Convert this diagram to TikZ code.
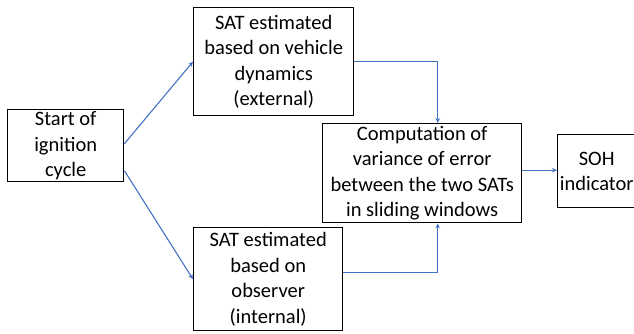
\documentclass[tikz,border=0pt]{standalone}
\usepackage{fontspec}
\setmainfont{Carlito}
\usetikzlibrary{arrows.meta,calc,positioning}
\definecolor{ink}{RGB}{0,0,0}
\definecolor{flow}{RGB}{68,114,196}
\tikzset{
  blk/.style={
    draw=ink, line width=1.4pt, anchor=north west,
    minimum width=#1, inner sep=0pt, align=center,
    font=\fontsize{20.5}{25.5}\selectfont,
  },
  blk/.default=100,
  arr/.style={-{Stealth[length=5pt,width=4.5pt]}, line width=1.1pt, draw=flow},
}

\begin{document}
\begin{tikzpicture}[x=1pt,y=-1pt]
  \useasboundingbox (0,0) rectangle (634,333);
  \clip (0,0) rectangle (634,333);

  \node[blk=116, minimum height=72] (start) at (7,109) {Start of\\ignition\\cycle};
  \node[blk=160, minimum height=108] (satext) at (193,7) {SAT estimated\\based on vehicle\\dynamics\\(external)};
  \node[blk=149, minimum height=103] (satint) at (193,227) {SAT estimated\\based on\\observer\\(internal)};
  \node[blk=199, minimum height=99] (varerr) at (322,123) {Computation of\\variance of error\\between the two SATs\\in sliding windows};
  \node[blk=78, minimum height=73] (soh) at (557,134) {SOH\\indicator};

  \draw[arr] ([yshift=2]start.east) -- (satext.west);
  \draw[arr] ([yshift=-25]start.east) -- (satint.west);
  \draw[arr] (satext.east) -| ([xshift=15.5]varerr.north);
  \draw[arr] ([yshift=7]satint.east) -| ([xshift=15.5]varerr.south);
  \draw[arr] ([yshift=3]varerr.east) -- ([yshift=3]varerr.east -| soh.west);
\end{tikzpicture}
\end{document}
